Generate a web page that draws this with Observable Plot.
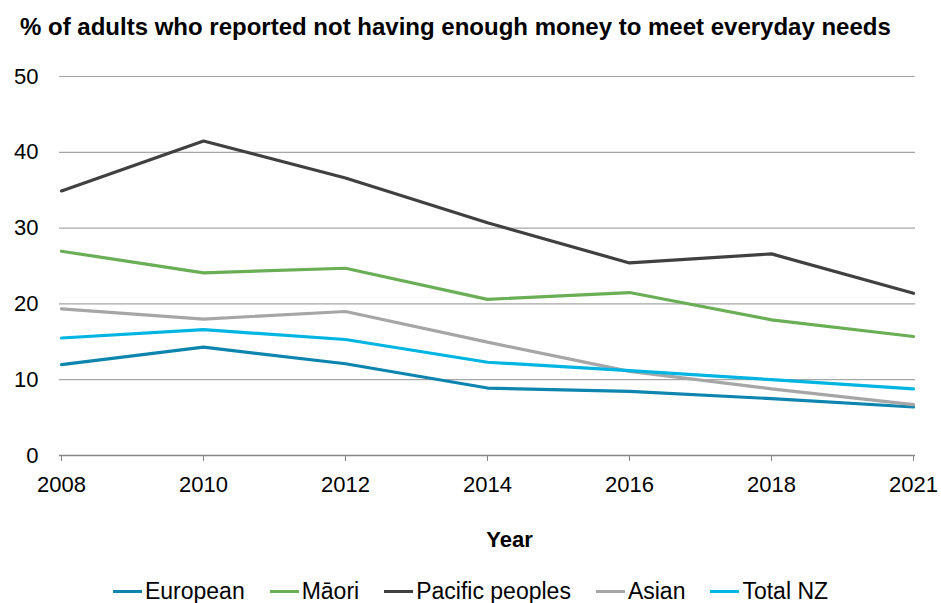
<!DOCTYPE html>
<html>
<head>
<meta charset="utf-8">
<script src="https://cdn.jsdelivr.net/npm/d3@7"></script>
<script src="https://cdn.jsdelivr.net/npm/@observablehq/plot@0.6"></script>
<style>
  body { margin: 0; background: #fff; font-family: "Liberation Sans", Arial, sans-serif; }
  #title { height: 56px; box-sizing: border-box; padding: 14px 0 0 20px; font-weight: bold; font-size: 24px; line-height: 26px; color: #000; white-space: nowrap; }
  #legend { margin-top: 16px; height: 30px; display: flex; justify-content: center; align-items: center; font-size: 23px; color: #000; }
  .item { display: flex; align-items: center; margin: 0 12.5px; }
  .sw { width: 29px; height: 3px; margin-right: 3px; }
</style>
</head>
<body>
<div id="title">% of adults who reported not having enough money to meet everyday needs</div>
<div id="chart"></div>
<div id="legend"></div>
<script>
const years = ["2008", "2010", "2012", "2014", "2016", "2018", "2021"];
const seriesNames = ["European", "Māori", "Pacific peoples", "Asian", "Total NZ"];
const european = [12.0, 14.3, 12.1, 8.9, 8.45, 7.5, 6.4];
const maori = [26.95, 24.1, 24.7, 20.6, 21.5, 17.9, 15.7];
const pacific = [34.9, 41.5, 36.6, 30.7, 25.4, 26.6, 21.4];
const asian = [19.35, 18.0, 19.0, 14.95, 11.1, 8.8, 6.7];
const totalNZ = [15.5, 16.6, 15.3, 12.3, 11.2, 10.0, 8.8];
const yTicks = [0, 10, 20, 30, 40, 50];
const colors = ["#0E85AE", "#6AAE56", "#404040", "#A6A6A6", "#00B5E2"];

const seriesValues = [european, maori, pacific, asian, totalNZ];
const data = [];
seriesNames.forEach((s, i) => years.forEach((y, j) => data.push({series: s, year: y, value: seriesValues[i][j]})));

const chart = Plot.plot({
  width: 941,
  height: 504,
  marginLeft: 59,
  marginRight: 26,
  marginTop: 20,
  marginBottom: 105,
  style: { fontFamily: "Liberation Sans, Arial, sans-serif", fontSize: "22px", color: "#000", background: "#fff" },
  x: { type: "point", domain: years, padding: 0, label: null, tickSize: 6, tickPadding: 15 },
  y: { domain: [0, 50], ticks: yTicks, label: null, tickSize: 0, tickPadding: 21 },
  color: { domain: seriesNames, range: colors },
  marks: [
    Plot.ruleY(yTicks.filter(d => d > 0), { stroke: "#A6A6A6", strokeWidth: 1.2 }),
    Plot.ruleY([0], { stroke: "#868686", strokeWidth: 1.5 }),
    Plot.line(data, { x: "year", y: "value", z: "series", stroke: "series", strokeWidth: 3.2, strokeLinejoin: "miter" }),
    Plot.text(["Year"], { frameAnchor: "bottom", dy: 91, dx: 22, fontWeight: "bold", fontSize: 22 })
  ]
});
chart.querySelectorAll("g[aria-label='x-axis tick'] path").forEach(p => p.setAttribute("stroke", "#868686"));
document.getElementById("chart").appendChild(chart);

const legend = document.getElementById("legend");
seriesNames.forEach((s, i) => {
  const it = document.createElement("div");
  it.className = "item";
  const sw = document.createElement("div");
  sw.className = "sw";
  sw.style.background = colors[i];
  const t = document.createElement("span");
  t.textContent = s;
  it.appendChild(sw); it.appendChild(t);
  legend.appendChild(it);
});
</script>
</body>
</html>
